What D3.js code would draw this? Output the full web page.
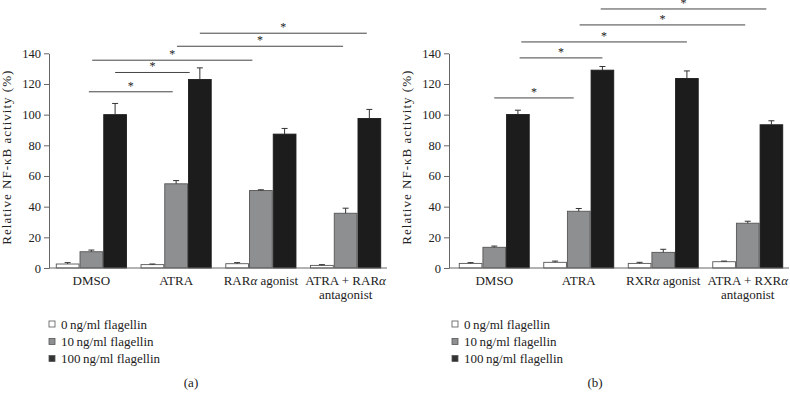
<!DOCTYPE html>
<html>
<head>
<meta charset="utf-8">
<script src="https://cdn.jsdelivr.net/npm/d3@7"></script>
<style>
  html, body { margin: 0; padding: 0; background: #fff; }
  svg { display: block; }
  text { font-family: "Liberation Serif", "DejaVu Serif", serif; fill: #222; }
</style>
</head>
<body>
<svg id="chart" width="790" height="403"></svg>
<script>
// ---------------- DATA ----------------
const seriesNames = ["0 ng/ml flagellin", "10 ng/ml flagellin", "100 ng/ml flagellin"];
const yTicks = [0, 20, 40, 60, 80, 100, 120, 140];

// Panel (a)
const categoriesA = [["DMSO"], ["ATRA"], ["RAR|α| agonist"], ["ATRA + RAR|α", "antagonist"]];
const valuesA0   = [2.6, 2.2, 2.8, 1.7];
const errorsA0   = [0.9, 0.4, 0.7, 0.5];
const valuesA10  = [10.6, 54.9, 50.5, 35.7];
const errorsA10  = [1.1, 2.1, 0.5, 3.3];
const valuesA100 = [100, 122.9, 87.3, 97.5];
const errorsA100 = [7.3, 7.6, 3.7, 5.9];
// significance brackets: from/to in category units (0 = first category centre), level in % units
const sigFromA  = [-0.03, 0.28, 0.01, 1.01, 1.28];
const sigToA    = [0.96, 1.16, 1.90, 2.97, 3.25];
const sigLevelA = [114.9, 127.5, 135.5, 144.6, 153.1];

// Panel (b)
const categoriesB = [["DMSO"], ["ATRA"], ["RXR|α| agonist"], ["ATRA + RXR|α", "antagonist"]];
const valuesB0   = [3.0, 3.7, 3.0, 4.1];
const errorsB0   = [0.5, 0.8, 0.7, 0.4];
const valuesB10  = [13.5, 37.0, 10.2, 29.2];
const errorsB10  = [0.8, 1.8, 2.0, 1.3];
const valuesB100 = [100.1, 129.0, 123.6, 93.4];
const errorsB100 = [2.8, 2.4, 4.9, 2.6];
const sigFromB  = [0.0, 0.30, 0.32, 1.01, 1.26];
const sigToB    = [0.94, 1.28, 2.28, 2.97, 3.22];
const sigLevelB = [110.9, 137.0, 147.4, 158.5, 168.9];

// ---------------- DRAWING ----------------
const svg = d3.select("#chart");
const fills = ["#ffffff", "#8e8f91", "#1c1c1c"];
const strokes = ["#555", "#555", "#1c1c1c"];

function drawPanel(cfg) {
  const g = svg.append("g");
  const y = d3.scaleLinear().domain([0, 140]).range([268, 53.3]);
  const ids = cfg.categories.map((c, i) => i);
  const x0 = d3.scaleBand().domain(ids).range(cfg.bandRange).paddingInner(0.16).paddingOuter(0.08);
  const x1 = d3.scaleBand().domain([0, 1, 2]).range([0, x0.bandwidth()]);
  const xc = d3.scaleLinear().domain([0, 1])
    .range([x0(0) + x0.bandwidth() / 2, x0(1) + x0.bandwidth() / 2]);

  // y axis
  const yAxis = g.append("g")
    .attr("transform", `translate(${cfg.axisX},0)`)
    .call(d3.axisLeft(y).tickValues(yTicks).tickSize(5).tickSizeOuter(0).tickPadding(3));
  yAxis.select(".domain").attr("stroke", "#666").attr("stroke-width", 1);
  yAxis.selectAll(".tick line").attr("stroke", "#666");
  yAxis.selectAll(".tick text")
    .style("font-family", '"Liberation Serif", serif')
    .style("font-size", "12.5px").attr("fill", "#222");

  // y title
  g.append("text")
    .attr("transform", `translate(${cfg.axisX - 38},${(y(0) + y(140)) / 2 - 3}) rotate(-90)`)
    .attr("text-anchor", "middle")
    .style("font-size", "13px")
    .attr("textLength", 174).attr("lengthAdjust", "spacing")
    .text("Relative NF-κB activity (%)");

  // bars
  const vals = cfg.values, errs = cfg.errors;
  for (let s = 0; s < 3; s++) {
    const data = vals[s].map((v, i) => ({ i, v, e: errs[s][i] }));
    g.append("g").selectAll("rect").data(data).join("rect")
      .attr("x", d => x0(d.i) + x1(s) + 0.5)
      .attr("y", d => y(d.v))
      .attr("width", x1.bandwidth() - 1)
      .attr("height", d => y(0) - y(d.v))
      .attr("fill", fills[s]).attr("stroke", strokes[s]).attr("stroke-width", 0.9);
    const eg = g.append("g").attr("stroke", "#333").attr("stroke-width", 1);
    eg.selectAll("line.v").data(data).join("line").attr("class", "v")
      .attr("x1", d => x0(d.i) + x1(s) + x1.bandwidth() / 2)
      .attr("x2", d => x0(d.i) + x1(s) + x1.bandwidth() / 2)
      .attr("y1", d => y(d.v)).attr("y2", d => y(d.v + d.e));
    eg.selectAll("line.c").data(data).join("line").attr("class", "c")
      .attr("x1", d => x0(d.i) + x1(s) + x1.bandwidth() / 2 - 3)
      .attr("x2", d => x0(d.i) + x1(s) + x1.bandwidth() / 2 + 3)
      .attr("y1", d => y(d.v + d.e)).attr("y2", d => y(d.v + d.e));
  }

  // x axis line
  g.append("line")
    .attr("x1", cfg.axisX).attr("x2", cfg.bandRange[1] - 1)
    .attr("y1", y(0)).attr("y2", y(0))
    .attr("stroke", "#666").attr("stroke-width", 1);

  // category labels
  cfg.categories.forEach((lines, i) => {
    lines.forEach((ln, k) => {
      const t = g.append("text")
        .attr("x", x0(i) + x0.bandwidth() / 2)
        .attr("y", 284.5 + k * 14)
        .attr("text-anchor", "middle")
        .style("font-size", "13px");
      ln.split("|").forEach((part, pi) => {
        t.append("tspan").style("font-style", pi % 2 === 1 ? "italic" : "normal").text(part);
      });
    });
  });

  // significance bars
  cfg.sigFrom.forEach((f, k) => {
    const yy = y(cfg.sigLevel[k]);
    g.append("line")
      .attr("x1", xc(f)).attr("x2", xc(cfg.sigTo[k]))
      .attr("y1", yy).attr("y2", yy)
      .attr("stroke", "#444").attr("stroke-width", 1);
    g.append("text")
      .attr("x", (xc(f) + xc(cfg.sigTo[k])) / 2)
      .attr("y", yy - 2)
      .attr("text-anchor", "middle")
      .style("font-size", "12px")
      .text("*");
  });

  // legend
  const legendYs = [328.5, 346, 363];
  seriesNames.forEach((name, s) => {
    g.append("rect")
      .attr("x", cfg.legendX - 3).attr("y", legendYs[s] - 7.5)
      .attr("width", 6).attr("height", 6)
      .attr("fill", s === 2 ? "#333" : fills[s]).attr("stroke", "#555").attr("stroke-width", 0.8);
    g.append("text")
      .attr("x", cfg.legendX + 9).attr("y", legendYs[s])
      .style("font-size", "13px")
      .text(name.replace(" ng", "\u2009ng"));
  });

  // panel label
  g.append("text")
    .attr("x", cfg.panelLabelX).attr("y", 387)
    .attr("text-anchor", "middle")
    .style("font-size", "13px")
    .text(cfg.panelLabel);
}

drawPanel({
  categories: categoriesA,
  values: [valuesA0, valuesA10, valuesA100],
  errors: [errorsA0, errorsA10, errorsA100],
  sigFrom: sigFromA, sigTo: sigToA, sigLevel: sigLevelA,
  axisX: 49, bandRange: [49, 388], legendX: 52, panelLabelX: 191, panelLabel: "(a)"
});
drawPanel({
  categories: categoriesB,
  values: [valuesB0, valuesB10, valuesB100],
  errors: [errorsB0, errorsB10, errorsB100],
  sigFrom: sigFromB, sigTo: sigToB, sigLevel: sigLevelB,
  axisX: 449, bandRange: [452, 790], legendX: 455, panelLabelX: 595, panelLabel: "(b)"
});
</script>
</body>
</html>
